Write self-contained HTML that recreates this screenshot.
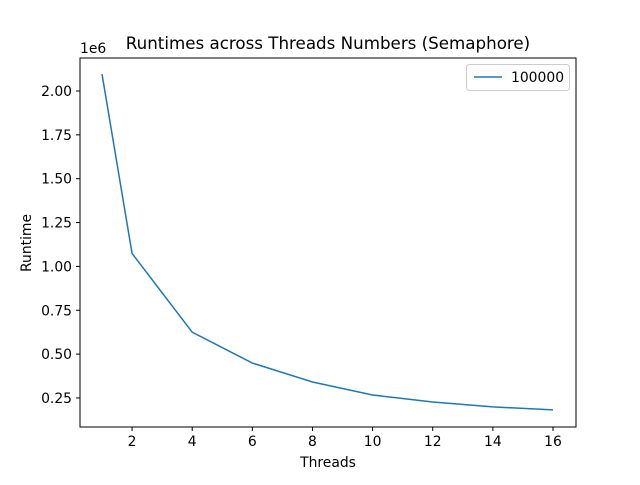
<!DOCTYPE html>
<html><head><meta charset="utf-8"><style>
body{margin:0;background:#fff}
svg text{font-family:"DejaVu Sans","Liberation Sans",sans-serif;fill:#000}
</style></head><body>
<svg id="chart" width="640" height="480">
<rect width="640" height="480" fill="#fff"/>
<text x="328" y="49" font-size="16.7" text-anchor="middle">Runtimes across Threads Numbers (Semaphore)</text>
<text x="80" y="53" font-size="13.9">1e6</text>
<text x="328" y="467" font-size="13.9" text-anchor="middle">Threads</text>
<text x="31" y="243" font-size="13.9" text-anchor="middle" transform="rotate(-90 31 243)">Runtime</text>
<g id="ticks"></g>
<polyline id="line" fill="none" stroke="#1f77b4" stroke-width="1.5"/>
<rect x="80" y="58" width="496" height="369" fill="none" stroke="#000" stroke-width="1"/>
<g>
<rect x="466.5" y="64.5" width="103" height="26" rx="3" fill="#fff" stroke="#ccc"/>
<line x1="474" y1="77" x2="502" y2="77" stroke="#1f77b4" stroke-width="1.5"/>
<text x="511" y="82" font-size="13.9">100000</text>
</g>
</svg>
<script>
const threads=[1,2,4,6,8,10,12,14,16];
const runtimes=[2.097,1.074,0.625,0.449,0.341,0.267,0.227,0.199,0.182];
const xTicks=[2,4,6,8,10,12,14,16];
const yTicks=["0.25","0.50","0.75","1.00","1.25","1.50","1.75","2.00"];
function xs(v){return 102+(v-1)*(451/15);}
function ys(v){return 91+(2.0-v)*175.4;}
const ns="http://www.w3.org/2000/svg";
const line=document.getElementById('line');
line.setAttribute('points',threads.map((t,i)=>xs(t)+','+ys(runtimes[i])).join(' '));
const g=document.getElementById('ticks');
xTicks.forEach(t=>{
 const l=document.createElementNS(ns,'line');
 
 
 l.setAttribute('x1',xs(t));l.setAttribute('x2',xs(t));l.setAttribute('y1',427);l.setAttribute('y2',431);l.setAttribute('stroke','#000');
 g.appendChild(l);
 const tx=document.createElementNS(ns,'text');
 
 
 tx.setAttribute('x',xs(t));tx.setAttribute('y',446);tx.setAttribute('font-size','13.9');tx.setAttribute('text-anchor','middle');
 tx.textContent=t;g.appendChild(tx);
});
yTicks.forEach(s=>{
 const v=parseFloat(s);
 const l=document.createElementNS(ns,'line');
 
 
 l.setAttribute('x1',76);l.setAttribute('x2',80);l.setAttribute('y1',ys(v));l.setAttribute('y2',ys(v));l.setAttribute('stroke','#000');
 g.appendChild(l);
 const tx=document.createElementNS(ns,'text');
 
 
 tx.setAttribute('x',72);tx.setAttribute('y',ys(v)+5);tx.setAttribute('font-size','13.9');tx.setAttribute('text-anchor','end');
 tx.textContent=s;g.appendChild(tx);
});
</script>
</body></html>
